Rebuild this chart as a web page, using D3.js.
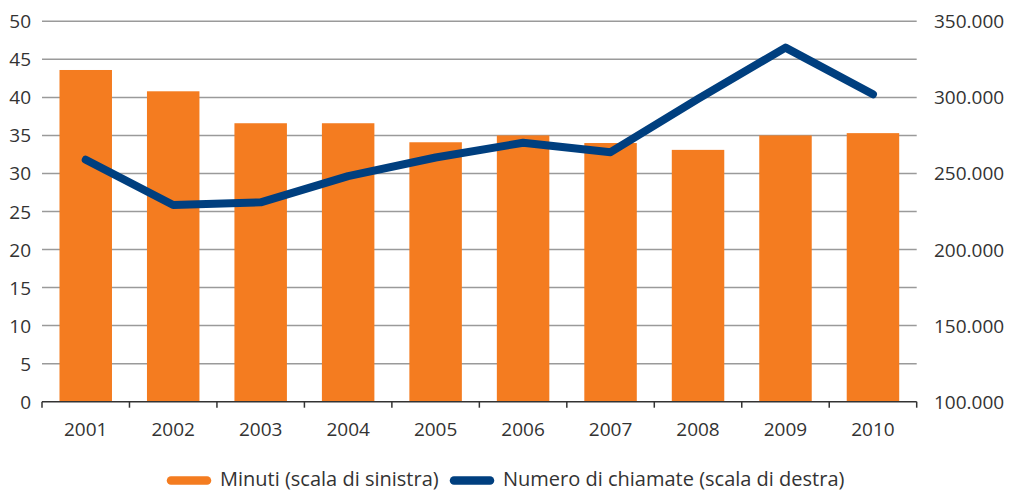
<!DOCTYPE html>
<html><head><meta charset="utf-8">
<script src="https://cdn.jsdelivr.net/npm/d3@7"></script>
<style>
html,body{margin:0;padding:0;background:#fff;}
text{font-family:"Open Sans",sans-serif;fill:#333;}
</style></head>
<body>
<svg id="chart" width="1009" height="492"></svg>
<script>
const years = ["2001","2002","2003","2004","2005","2006","2007","2008","2009","2010"];
const minuti = [43.6, 40.8, 36.6, 36.6, 34.1, 35.0, 34.0, 33.1, 35.0, 35.3];
const chiamate = [259000, 229300, 231000, 248300, 260500, 270200, 264000, 299000, 332700, 302000];
const leftTicks = [0,5,10,15,20,25,30,35,40,45,50];
const rightTicks = [100000,150000,200000,250000,300000,350000];
const legendLabels = ["Minuti (scala di sinistra)", "Numero di chiamate (scala di destra)"];

const orange = "#F47C20", blue = "#003F7F";
const svg = d3.select("#chart");
const L = 42, R = 916.7, T = 21.3, B = 401.7;

const x = d3.scaleBand().domain(years).range([L, R]).paddingInner(0.4).paddingOuter(0.2);
const yL = d3.scaleLinear().domain([0, 50]).range([B, T]);
const yR = d3.scaleLinear().domain([100000, 350000]).range([B, T]);

// gridlines
svg.append("g").selectAll("line").data(leftTicks.filter(d=>d>0)).join("line")
  .attr("x1", L).attr("x2", R)
  .attr("y1", d=>yL(d)).attr("y2", d=>yL(d))
  .attr("stroke", "#9a9a9a").attr("stroke-width", 1.5);

// bars
svg.append("g").selectAll("rect").data(years).join("rect")
  .attr("x", d=>x(d)).attr("width", x.bandwidth())
  .attr("y", (d,i)=>yL(minuti[i])).attr("height", (d,i)=>B - yL(minuti[i]))
  .attr("fill", orange);

// bottom axis line + ticks at band edges
const xAxisG = svg.append("g");
xAxisG.append("line").attr("x1", L).attr("x2", R).attr("y1", B).attr("y2", B)
  .attr("stroke", "#333").attr("stroke-width", 1.5);
const edges = years.map(d => x(d) - x.step()*x.paddingInner()/2 ).concat([R]);
edges[0] = L;
xAxisG.selectAll("line.tk").data(edges).join("line").attr("class","tk")
  .attr("x1", d=>d).attr("x2", d=>d).attr("y1", B).attr("y2", B+6)
  .attr("stroke", "#333").attr("stroke-width", 1.5);
xAxisG.selectAll("text").data(years).join("text")
  .attr("x", d=>x(d)+x.bandwidth()/2).attr("y", 429)
  .attr("text-anchor","middle").attr("dominant-baseline","central")
  .attr("font-size", 19).text(d=>d);

// left axis labels
svg.append("g").selectAll("text").data(leftTicks).join("text")
  .attr("x", 31).attr("y", d=>yL(d))
  .attr("text-anchor","end").attr("dominant-baseline","central")
  .attr("font-size", 19).text(d=>d);

// right axis labels
const fmt = d3.formatLocale({decimal:",", thousands:".", grouping:[3], currency:["€",""]}).format(",");
svg.append("g").selectAll("text").data(rightTicks).join("text")
  .attr("x", 934).attr("y", d=>yR(d))
  .attr("text-anchor","start").attr("dominant-baseline","central")
  .attr("font-size", 19).text(d=>fmt(d));

// line
const line = d3.line().x((d,i)=>x(years[i])+x.bandwidth()/2).y(d=>yR(d));
svg.append("path").datum(chiamate).attr("d", line)
  .attr("fill","none").attr("stroke", blue).attr("stroke-width", 8)
  .attr("stroke-linejoin","round").attr("stroke-linecap","round");

// legend
const lg = svg.append("g");
const items = [{x:167, c:orange, t:legendLabels[0]}, {x:450, c:blue, t:legendLabels[1]}];
items.forEach(it => {
  lg.append("line").attr("x1", it.x+4).attr("x2", it.x+40).attr("y1", 480.5).attr("y2", 480.5)
    .attr("stroke", it.c).attr("stroke-width", 8.5).attr("stroke-linecap","round");
  lg.append("text").attr("x", it.x+53).attr("y", 486).attr("font-size", 20).text(it.t);
});
</script>
</body></html>
